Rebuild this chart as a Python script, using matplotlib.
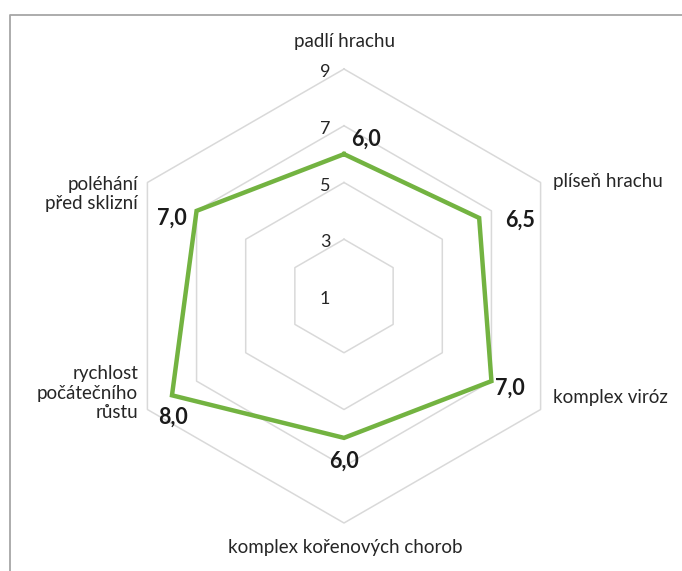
import numpy as np
import matplotlib.pyplot as plt
from matplotlib.lines import Line2D

categories = ['padlí hrachu', 'plíseň hrachu', 'komplex viróz',
              'komplex kořenových chorob', 'rychlost\npočátečního\nrůstu',
              'poléhání\npřed sklizní']
values = [6.0, 6.5, 7.0, 6.0, 8.0, 7.0]
ring_levels = [3, 5, 7, 9]
tick_labels = [1, 3, 5, 7, 9]
r_min, r_max = 1, 9

GREEN = '#73b341'
GRID = '#d9d9d9'
TEXT = '#262626'

plt.rcParams['font.family'] = ['Lato', 'DejaVu Sans']


def to_xy(value, idx, n):
    # clockwise from the top, radius measured from r_min
    ang = np.pi / 2 - 2 * np.pi * idx / n
    r = value - r_min
    return r * np.cos(ang), r * np.sin(ang)


def main():
    W, H = 682, 571
    cx, cy, rad = 344, 296, 227
    scale = rad / (r_max - r_min)

    fig = plt.figure(figsize=(W / 100, H / 100), dpi=100)
    ax = fig.add_axes([0, 0, 1, 1])
    ax.set_xlim(-cx / scale, (W - cx) / scale)
    ax.set_ylim(-(H - cy) / scale, cy / scale)
    ax.axis('off')

    n = len(categories)
    idx = np.arange(n + 1) % n

    # hexagonal grid rings
    for lvl in ring_levels:
        xs, ys = to_xy(np.full(n + 1, lvl), idx, n)
        ax.plot(xs, ys, color=GRID, lw=1.1, zorder=1)

    # radial tick labels, placed just left of the vertical axis
    for t in tick_labels:
        ax.text(-19 / scale, t - r_min - 3 / scale, str(t), ha='center',
                va='center', fontsize=13, color=TEXT)

    # data polygon
    vals = np.array(values)[idx]
    xs, ys = to_xy(vals, idx, n)
    ax.plot(xs, ys, color=GREEN, lw=3.2, solid_joinstyle='miter', zorder=3)

    # value labels
    offsets = [(22, 15), (41, -2), (18, -7), (0, -23), (1, -22), (-25, -7)]
    for i, v in enumerate(values):
        px, py = to_xy(v, i, n)
        ax.annotate(f'{v:.1f}'.replace('.', ','), (px, py),
                    xytext=offsets[i], textcoords='offset pixels',
                    ha='center', va='center', fontsize=15.5,
                    fontweight='bold', color='#1a1a1a', zorder=4)

    # category labels
    cat_pos = [((344, 42), 'center'), ((553, 181), 'left'),
               ((553, 398), 'left'), ((345, 547), 'center'),
               ((138, 393), 'right'), ((138, 194), 'right')]
    for name, ((px, py), ha) in zip(categories, cat_pos):
        fig.text(px / W, 1 - py / H, name, ha=ha, va='center',
                 fontsize=13.5, color=TEXT, linespacing=1.15,
                 multialignment=ha)

    # chart area border
    fig.add_artist(Line2D([10 / W, 10 / W, 1], [0, 1 - 15 / H, 1 - 15 / H],
                          transform=fig.transFigure, color='#a6a6a6', lw=1.3))

    fig.savefig('out.png', dpi=100)


if __name__ == '__main__':
    main()
